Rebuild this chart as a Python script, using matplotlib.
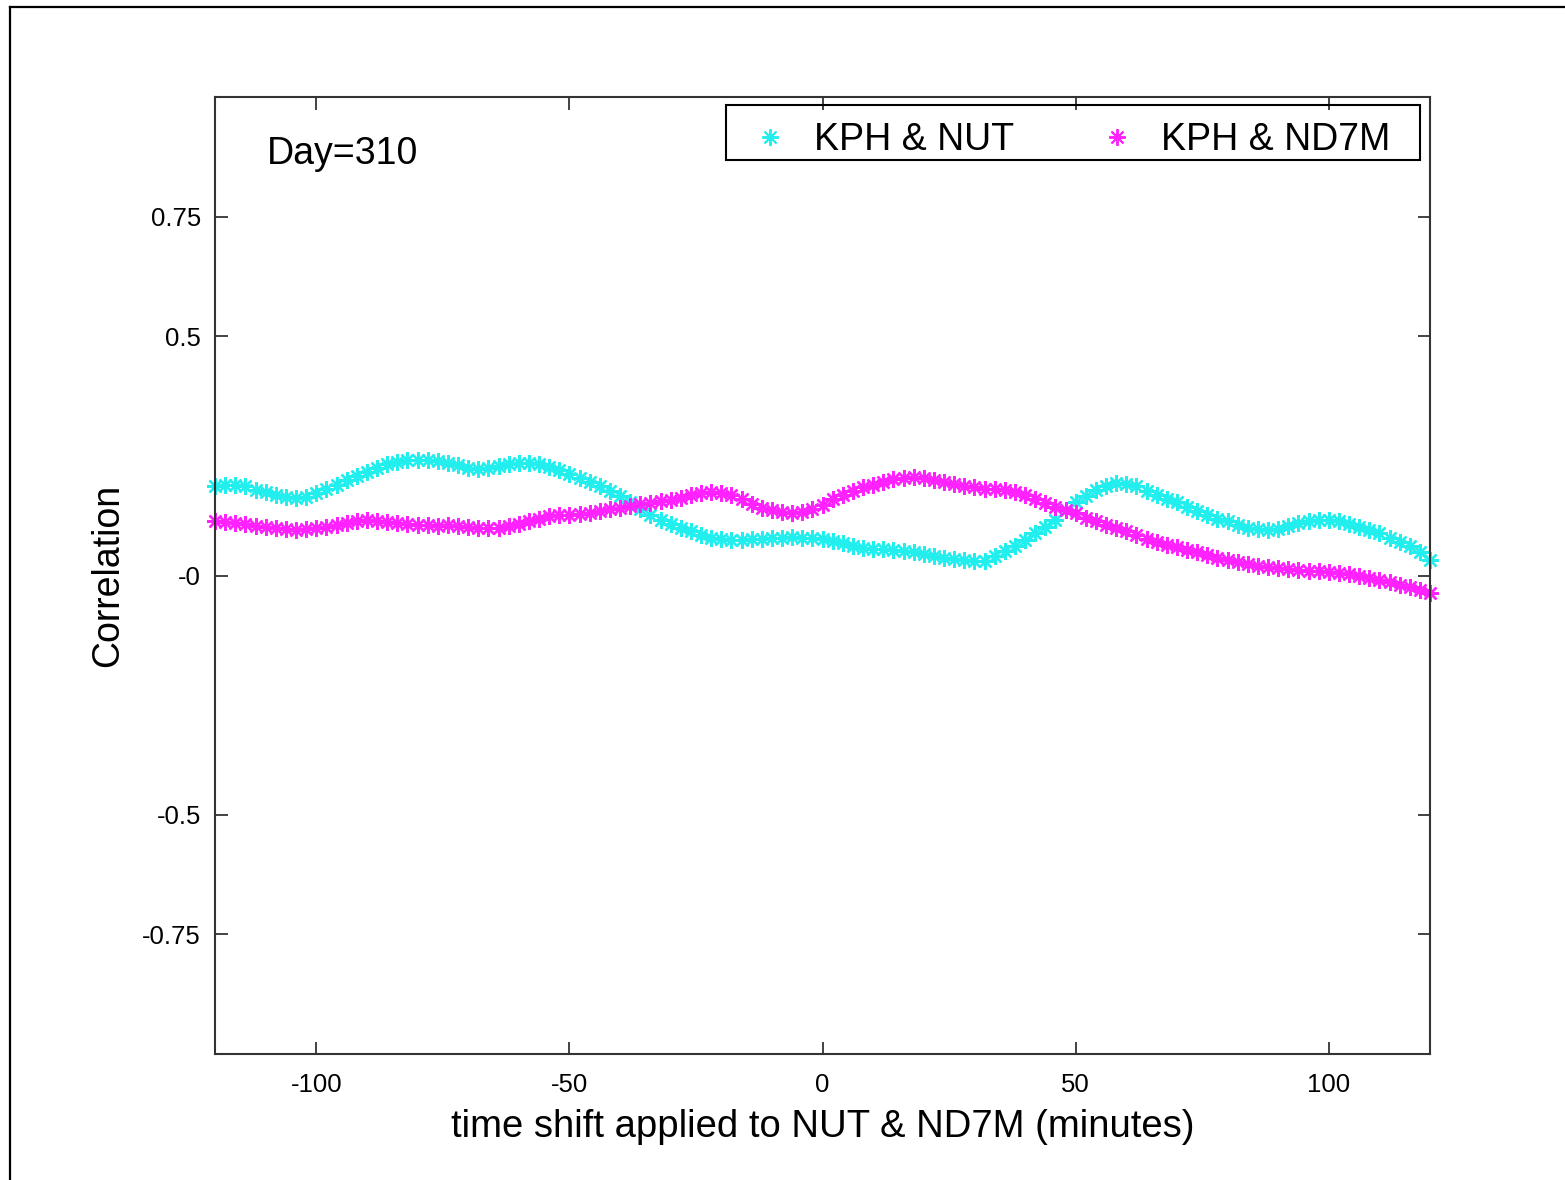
import matplotlib
matplotlib.use("Agg")
import matplotlib.pyplot as plt
from matplotlib.lines import Line2D
from matplotlib.patches import Rectangle
import numpy as np

plt.rcParams['font.family'] = ['Liberation Sans', 'DejaVu Sans']

# time shift (minutes)
shift = list(range(-120, 121, 2))

kph_nut = [
    0.186, 0.189, 0.190, 0.186, 0.179, 0.174, 0.168, 0.164, 0.162, 0.165,
    0.172, 0.181, 0.190, 0.199, 0.207, 0.216, 0.225, 0.233, 0.238, 0.241,
    0.242, 0.241, 0.240, 0.236, 0.230, 0.225, 0.223, 0.224, 0.228, 0.233,
    0.235, 0.236, 0.232, 0.227, 0.220, 0.213, 0.204, 0.195, 0.186, 0.177,
    0.166, 0.153, 0.139, 0.127, 0.116, 0.107, 0.100, 0.092, 0.085, 0.079,
    0.076, 0.075, 0.075, 0.076, 0.077, 0.078, 0.079, 0.080, 0.079, 0.078,
    0.076, 0.073, 0.067, 0.062, 0.058, 0.056, 0.055, 0.054, 0.052, 0.049,
    0.045, 0.041, 0.037, 0.034, 0.032, 0.030, 0.031, 0.040, 0.052, 0.062,
    0.075, 0.088, 0.101, 0.117, 0.136, 0.153, 0.166, 0.178, 0.188, 0.193,
    0.192, 0.186, 0.177, 0.168, 0.160, 0.153, 0.143, 0.134, 0.126, 0.119,
    0.113, 0.106, 0.100, 0.097, 0.096, 0.098, 0.104, 0.110, 0.114, 0.116,
    0.117, 0.113, 0.108, 0.102, 0.096, 0.088, 0.079, 0.070, 0.061, 0.049,
    0.033,
]

kph_nd7m = [
    0.113, 0.112, 0.110, 0.107, 0.104, 0.101, 0.099, 0.097, 0.096, 0.097,
    0.099, 0.102, 0.106, 0.110, 0.113, 0.115, 0.114, 0.111, 0.109, 0.107,
    0.106, 0.105, 0.104, 0.105, 0.104, 0.101, 0.100, 0.099, 0.100, 0.103,
    0.108, 0.113, 0.119, 0.124, 0.126, 0.127, 0.129, 0.131, 0.134, 0.138,
    0.142, 0.146, 0.149, 0.151, 0.155, 0.158, 0.163, 0.168, 0.172, 0.174,
    0.173, 0.168, 0.160, 0.150, 0.141, 0.136, 0.133, 0.131, 0.133, 0.140,
    0.148, 0.159, 0.168, 0.177, 0.184, 0.189, 0.195, 0.201, 0.204, 0.206,
    0.204, 0.200, 0.196, 0.192, 0.188, 0.184, 0.181, 0.180, 0.178, 0.174,
    0.168, 0.160, 0.152, 0.144, 0.137, 0.130, 0.121, 0.113, 0.105, 0.099,
    0.092, 0.085, 0.077, 0.070, 0.063, 0.059, 0.054, 0.049, 0.043, 0.037,
    0.032, 0.028, 0.024, 0.020, 0.017, 0.015, 0.013, 0.011, 0.010, 0.009,
    0.008, 0.006, 0.003, -0.001, -0.005, -0.009, -0.014, -0.019, -0.024, -0.030,
    -0.036,
]

series_labels = ["KPH & NUT", "KPH & ND7M"]
series_colors = ["#22EEEE", "#FF22FF"]

xticks = [-100, -50, 0, 50, 100]
xticklabels = ["-100", "-50", "0", "50", "100"]
yticks = [-0.75, -0.5, 0, 0.5, 0.75]
yticklabels = ["-0.75", "-0.5", "-0", "0.5", "0.75"]

W, H = 1565, 1180
fig = plt.figure(figsize=(W / 100, H / 100), dpi=100)
ax = fig.add_axes([215 / W, 1 - 1054 / H, (1430 - 215) / W, (1054 - 97) / H])

ast = (8, 2, 0)
for ys, lab, col in zip([kph_nut, kph_nd7m], series_labels, series_colors):
    ax.plot(shift, ys, linestyle='none', marker=ast, markersize=12,
            markeredgewidth=1.7, color=col, label=lab, clip_on=False)

ax.set_xlim(-120, 120)
ax.set_ylim(-1, 1)
ax.set_xticks(xticks)
ax.set_xticklabels(xticklabels)
ax.set_yticks(yticks)
ax.set_yticklabels(yticklabels)
ax.tick_params(direction='in', length=9, width=1.2, top=True, right=True,
               labelsize=18.5, colors='#222222', labelcolor='black')
ax.tick_params(axis='x', pad=14)
ax.tick_params(axis='y', pad=10)
for s in ax.spines.values():
    s.set_linewidth(1.5)
    s.set_color('#333333')

ax.set_xlabel("time shift applied to NUT & ND7M (minutes)", fontsize=27.5, labelpad=8)
ax.set_ylabel("Correlation", fontsize=27, labelpad=12)

ax.text(0.043, 0.940, "Day=310", transform=ax.transAxes, fontsize=27,
        ha='left', va='center')

handles = [Line2D([], [], linestyle='none', marker=ast, markersize=12,
                  markeredgewidth=1.4, color=c) for c in series_colors]
leg = ax.legend(handles, series_labels, loc='upper left',
                bbox_to_anchor=(0.4206, 0.9832),
                ncol=2, fontsize=27, frameon=False,
                borderaxespad=0, handlelength=1.84, handletextpad=0.25,
                columnspacing=1.83, borderpad=0.25)
ax.add_patch(Rectangle((0.4206, 0.9342), 0.5712, 0.0574, transform=ax.transAxes,
                       facecolor='none', edgecolor='black', linewidth=1.5,
                       clip_on=False, zorder=5))

# outer frame (left and top visible)
fig.add_artist(Line2D([10 / W, 10 / W], [0, 1 - 7 / H], transform=fig.transFigure,
                      color='black', linewidth=1.6))
fig.add_artist(Line2D([10 / W, 1], [1 - 7 / H, 1 - 7 / H], transform=fig.transFigure,
                      color='black', linewidth=1.6))

fig.savefig("out.png", dpi=100)
